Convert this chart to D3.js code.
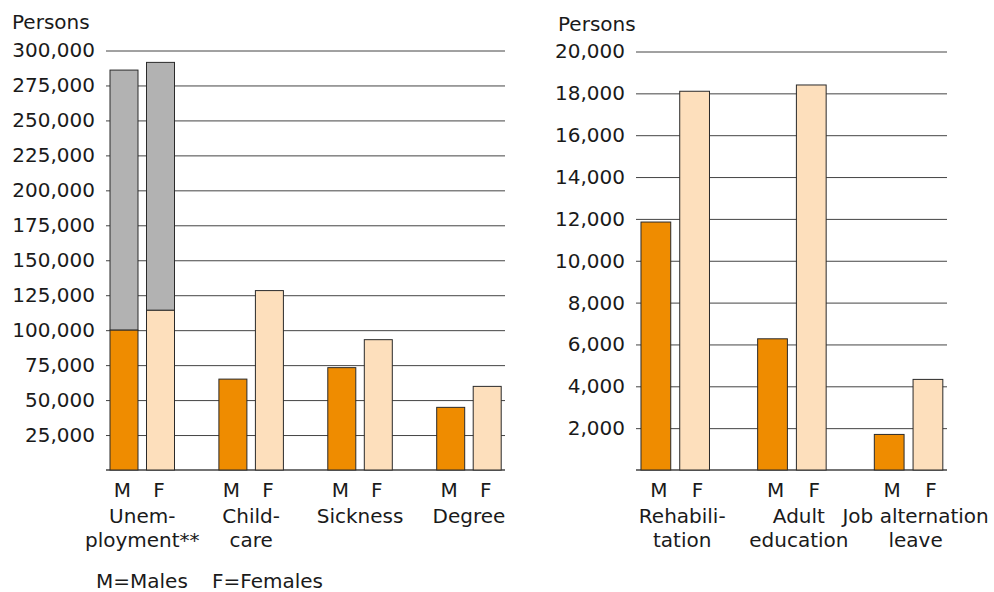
<!DOCTYPE html>
<html>
<head>
<meta charset="utf-8">
<script src="https://cdn.jsdelivr.net/npm/d3@7"></script>
<style>
  html, body { margin: 0; padding: 0; background: #fff; }
  svg { display: block; }
  text { font-family: "DejaVu Sans", sans-serif; font-size: 20px; fill: #1a1a1a; }
</style>
</head>
<body>
<svg id="chart" width="994" height="592"></svg>
<script>
// ---------- data ----------
const sexes = ["M", "F"];
const legendText = ["M=Males", "F=Females"];
const yLabel = "Persons";

// left panel
const leftCategories = ["Unemployment**", "Childcare", "Sickness", "Degree"];
const leftCategoryLines = [["Unem-", "ployment**"], ["Child-", "care"], ["Sickness"], ["Degree"]];
const leftMales = [100000, 65000, 73200, 44800];
const leftFemales = [114200, 128300, 93200, 59800];
// grey upper part of the unemployment bars (total unemployed)
const unemploymentTotals = [286000, 291500]; // M, F
const leftTicks = [25000, 50000, 75000, 100000, 125000, 150000, 175000, 200000, 225000, 250000, 275000, 300000];

// right panel
const rightCategories = ["Rehabilitation", "Adult education", "Job alternation leave"];
const rightCategoryLines = [["Rehabili-", "tation"], ["Adult", "education"], ["Job alternation", "leave"]];
const rightMales = [11850, 6270, 1700];
const rightFemales = [18100, 18400, 4330];
const rightTicks = [2000, 4000, 6000, 8000, 10000, 12000, 14000, 16000, 18000, 20000];

// ---------- styles ----------
const COLOR_M = "#EF8C00";
const COLOR_F = "#FDDFBC";
const COLOR_GREY = "#B2B2B2";
const GRID = "#444";
const fmt = d3.format(",");

const svg = d3.select("#chart");

function panel(opts) {
  const g = svg.append("g");
  const y = d3.scaleLinear().domain([0, opts.max]).range([470, opts.top]);
  const x0 = d3.scaleBand().domain(opts.categories)
    .range(opts.bandRange).paddingInner(opts.pad).paddingOuter(opts.pad / 2);
  const x1 = d3.scaleBand().domain(sexes).range([0, x0.bandwidth()]).paddingInner(opts.subPad);

  // grid + tick labels
  const axis = d3.axisLeft(y).tickValues(opts.ticks).tickFormat(fmt)
    .tickSizeInner(-(opts.gridX[1] - opts.gridX[0])).tickSizeOuter(0).tickPadding(11);
  const ag = g.append("g").attr("transform", `translate(${opts.gridX[0]},0)`).call(axis);
  ag.select(".domain").remove();
  ag.selectAll(".tick line").attr("stroke", GRID).attr("stroke-width", 1);
  ag.selectAll(".tick text").attr("fill", "#1a1a1a")
    .style("font-family", '"DejaVu Sans", sans-serif').style("font-size", "20px");

  // baseline
  g.append("line").attr("x1", opts.gridX[0]).attr("x2", opts.gridX[1])
    .attr("y1", y(0)).attr("y2", y(0)).attr("stroke", GRID).attr("stroke-width", 1.5);

  const rows = opts.categories.map((c, i) => ({
    cat: c, i, vals: [opts.males[i], opts.females[i]], lines: opts.lines[i]
  }));

  const grp = g.selectAll("g.grp").data(rows).join("g").attr("class", "grp")
    .attr("transform", d => `translate(${x0(d.cat)},0)`);

  // grey totals (stack upper part) if present
  if (opts.totals) {
    const first = rows[0];
    grp.filter(d => d.i === 0).selectAll("rect.tot")
      .data(sexes.map((s, k) => ({ s, base: first.vals[k], top: opts.totals[k] })))
      .join("rect").attr("class", "tot")
      .attr("x", d => x1(d.s)).attr("width", x1.bandwidth())
      .attr("y", d => y(d.top)).attr("height", d => y(d.base) - y(d.top))
      .attr("fill", COLOR_GREY).attr("stroke", "#2a2a2a").attr("stroke-width", 1);
  }

  grp.selectAll("rect.bar")
    .data(d => sexes.map((s, k) => ({ s, v: d.vals[k] })))
    .join("rect").attr("class", "bar")
    .attr("x", d => x1(d.s)).attr("width", x1.bandwidth())
    .attr("y", d => y(d.v)).attr("height", d => y(0) - y(d.v))
    .attr("fill", d => d.s === "M" ? COLOR_M : COLOR_F)
    .attr("stroke", "#2a2a2a").attr("stroke-width", 1);

  // M / F labels
  grp.selectAll("text.sex").data(sexes).join("text").attr("class", "sex")
    .attr("x", s => x1(s) + x1.bandwidth() / 2 + opts.sexDx).attr("y", 497)
    .attr("text-anchor", "middle").text(s => s);

  // category labels
  grp.append("text").attr("text-anchor", "middle")
    .selectAll("tspan").data(d => d.lines).join("tspan")
    .attr("x", x0.bandwidth() / 2 + opts.catDx).attr("y", (d, k) => 522.5 + k * 24)
    .text(d => d);

  // unit label
  g.append("text").attr("x", opts.unitPos[0]).attr("y", opts.unitPos[1]).text(yLabel);
}

panel({
  categories: leftCategories, lines: leftCategoryLines,
  males: leftMales, females: leftFemales, totals: unemploymentTotals,
  max: 300000, top: 50.5, ticks: leftTicks,
  bandRange: [87.8, 523.4], pad: 0.4077, subPad: 0.233,
  gridX: [106, 505], unitPos: [12, 29], sexDx: -1.5, catDx: 0
});

panel({
  categories: rightCategories, lines: rightCategoryLines,
  males: rightMales, females: rightFemales, totals: null,
  max: 20000, top: 51.5, ticks: rightTicks,
  bandRange: [616.9, 966.9], pad: 0.4128, subPad: 0.232,
  gridX: [636, 947], unitPos: [558, 31], sexDx: 3, catDx: 7
});

// legend
svg.append("text").attr("x", 96).attr("y", 588).text(legendText[0]);
svg.append("text").attr("x", 212).attr("y", 588).text(legendText[1]);
</script>
</body>
</html>
